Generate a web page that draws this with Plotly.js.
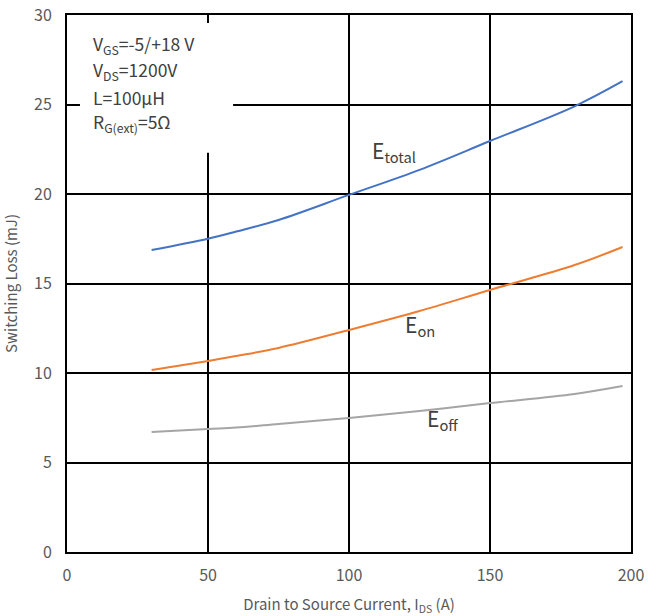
<!DOCTYPE html>
<html><head><meta charset="utf-8">
<script src="https://cdn.plot.ly/plotly-3.0.1.min.js"></script>
<style>html,body{margin:0;padding:0;background:#fff}#chart{width:664px;height:616px}</style>
</head><body><div id="chart"></div>
<script>
const current = [30, 50, 60, 75, 100, 125, 150, 180, 197];
const eTotal = [16.87, 17.5, 17.9, 18.55, 19.95, 21.35, 22.96, 24.9, 26.3];
const eOn = [10.17, 10.67, 10.95, 11.4, 12.4, 13.46, 14.64, 16.03, 17.04];
const eOff = [6.70, 6.87, 6.95, 7.15, 7.49, 7.88, 8.32, 8.83, 9.27];
const conditions = ["V<sub>GS</sub>=-5/+18 V", "V<sub>DS</sub>=1200V", "L=100µH", "R<sub>G(ext)</sub>=5Ω"];
const seriesLabels = ["E<sub>total</sub>", "E<sub>on</sub>", "E<sub>off</sub>"];

const font = "'Noto Sans CJK SC', 'Noto Sans', sans-serif";
const mk = (y, c) => ({x: current, y: y, mode: 'lines', line: {color: c, width: 2, shape: 'spline'}, hoverinfo: 'skip', showlegend: false});
const data = [mk(eTotal, '#4472C4'), mk(eOn, '#ED7D31'), mk(eOff, '#A5A5A5')];

const annotations = conditions.map((t, i) => ({
  x: 8.5, y: 28.3 - i * 1.45, xref: 'x', yref: 'y', text: t, showarrow: false,
  xanchor: 'left', yanchor: 'middle', font: {family: font, size: 17.5, color: '#404040'}
}));
const labelPos = [[115.8, 22.4], [125, 12.7], [133, 7.45]];
seriesLabels.forEach((t, i) => annotations.push({
  x: labelPos[i][0], y: labelPos[i][1], xref: 'x', yref: 'y', text: t, showarrow: false,
  xanchor: 'center', yanchor: 'middle', font: {family: font, size: 21, color: '#404040'}
}));

const axisCommon = {showline: true, linecolor: '#000', linewidth: 2, mirror: true,
  gridcolor: '#000', gridwidth: 2, zeroline: false, ticks: '', automargin: false,
  tickfont: {family: font, size: 16, color: '#595959'}};

const layout = {
  width: 664, height: 616,
  margin: {l: 67, r: 33, t: 15, b: 64},
  paper_bgcolor: '#fff', plot_bgcolor: '#fff',
  xaxis: Object.assign({}, axisCommon, {range: [0, 200], tickvals: [0, 50, 100, 150, 200], ticklabelstandoff: 8,
    title: {text: 'Drain to Source Current, I<sub>DS</sub> (A)', standoff: 14, font: {family: font, size: 15, color: '#595959'}}}),
  yaxis: Object.assign({}, axisCommon, {range: [0, 30], tickvals: [0, 5, 10, 15, 20, 25, 30], ticklabelstandoff: 10,
    title: {text: 'Switching Loss (mJ)', standoff: 14, font: {family: font, size: 15, color: '#595959'}}}),
  shapes: [{type: 'rect', xref: 'x', yref: 'y', x0: 4.6, x1: 58.9, y0: 22.3, y1: 29.55,
    fillcolor: '#fff', line: {width: 0}, layer: 'between'}],
  annotations: annotations
};
Plotly.newPlot('chart', data, layout, {displayModeBar: false, staticPlot: true});
</script></body></html>
